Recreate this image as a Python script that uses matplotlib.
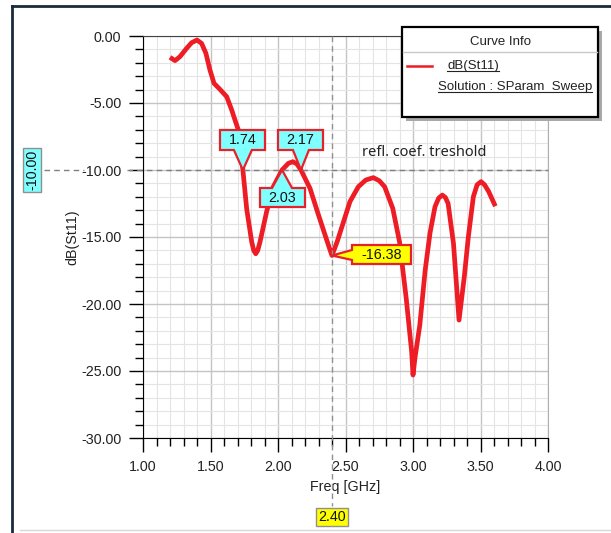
import matplotlib
matplotlib.use("Agg")
import matplotlib.pyplot as plt
from matplotlib.lines import Line2D
from matplotlib.patches import Polygon, Rectangle
from matplotlib.transforms import IdentityTransform
from matplotlib.ticker import MultipleLocator, FormatStrFormatter

plt.rcParams['font.family'] = ['Liberation Sans', 'DejaVu Sans']
plt.rcParams['axes.unicode_minus'] = False

# ---- data ----
freq = [1.20, 1.237, 1.274, 1.323, 1.36, 1.40, 1.434, 1.466, 1.496, 1.526,
        1.57, 1.62, 1.657, 1.689, 1.706, 1.73, 1.74, 1.768, 1.805, 1.82,
        1.835, 1.85, 1.867, 1.916, 1.965, 2.03, 2.077, 2.11, 2.14, 2.17,
        2.237, 2.30, 2.36, 2.39, 2.40, 2.44, 2.47, 2.533, 2.595, 2.65,
        2.706, 2.75, 2.79, 2.85, 2.90, 2.95, 2.99, 3.00, 3.015, 3.05,
        3.09, 3.126, 3.163, 3.19, 3.217, 3.24, 3.26, 3.30, 3.341, 3.38,
        3.41, 3.447, 3.475, 3.504, 3.53, 3.56, 3.61]
s11 = [-1.59, -1.84, -1.54, -0.92, -0.50, -0.30, -0.55, -1.29, -2.54, -3.53,
       -3.98, -4.53, -5.52, -6.50, -7.00, -9.00, -10.00, -12.90, -15.35, -16.00,
       -16.25, -16.00, -15.35, -13.10, -11.25, -10.00, -9.50, -9.38, -9.55, -10.00,
       -11.37, -13.36, -15.20, -16.10, -16.38, -15.30, -14.35, -12.36, -11.25, -10.75,
       -10.57, -10.80, -11.25, -12.86, -15.35, -19.60, -23.56, -25.30, -24.00, -21.60,
       -17.50, -14.70, -12.74, -12.10, -11.87, -12.05, -12.50, -15.50, -21.20, -17.96,
       -14.98, -12.00, -11.10, -10.87, -11.10, -11.60, -12.70]

x_ticks = [1.00, 1.50, 2.00, 2.50, 3.00, 3.50, 4.00]
y_ticks = [0.0, -5.0, -10.0, -15.0, -20.0, -25.0, -30.0]

threshold = -10.0
marker_freqs = [1.74, 2.03, 2.17]
marker_labels = ["1.74", "2.03", "2.17"]
x_cursor = 2.40
cursor_value = -16.38

W, H = 611, 533
fig = plt.figure(figsize=(W / 100, H / 100), dpi=100)
fig.patch.set_facecolor('white')
FS = 10.3


def fx(x):
    return x / W


def fy(y):
    return 1 - y / H


ax = fig.add_axes([fx(143), fy(438), 405 / W, 402 / H])
ax.set_xlim(1.0, 4.0)
ax.set_ylim(-30.0, 0.0)
ax.set_xticks(x_ticks)
ax.set_yticks(y_ticks)
ax.xaxis.set_minor_locator(MultipleLocator(0.1))
ax.yaxis.set_minor_locator(MultipleLocator(1.0))
ax.xaxis.set_major_formatter(FormatStrFormatter('%.2f'))
ax.yaxis.set_major_formatter(FormatStrFormatter('%.2f'))
ax.grid(which='major', color='#c4c4c4', lw=1.0)
ax.grid(which='minor', color='#e4e4e4', lw=0.8)
ax.set_axisbelow(True)
ax.tick_params(which='major', direction='out', length=10, width=1,
               labelsize=FS, labelcolor='#222222')
ax.tick_params(axis='y', which='major', pad=5.5)
ax.tick_params(axis='x', which='major', pad=6.0)
ax.tick_params(which='minor', direction='out', length=6, width=1)
for s in ['left', 'bottom']:
    ax.spines[s].set_color('black')
ax.spines['top'].set_color('#444444')
ax.spines['right'].set_color('#b0b0b0')

ax.plot(freq, s11, color='#ee1c25', lw=3.4, solid_capstyle='butt',
        solid_joinstyle='round', zorder=5)

ax.text(-0.175, 0.5, "dB(St11)", transform=ax.transAxes, rotation=90,
        ha='center', va='center', fontsize=FS, color='#222222')
ax.text(0.5, -(487 - 438) / 402, "Freq [GHz]", transform=ax.transAxes,
        ha='center', va='center', fontsize=FS, color='#222222')

# ---- reference lines ----
fig.canvas.draw()


def to_img(xd, yd):
    X, Y = ax.transData.transform((xd, yd))
    return X, H - Y


def disp(pts):
    return [(x, H - y) for x, y in pts]


_, y_thr = to_img(1.0, threshold)
x_cur, _ = to_img(x_cursor, -30)
for xa, xb in [(44, 84), (127, 548)]:
    fig.add_artist(Line2D([fx(xa), fx(xb)], [fy(y_thr), fy(y_thr)],
                          color='#808080', lw=1.0, ls=(0, (4, 3)), zorder=3))
fig.add_artist(Line2D([fx(x_cur), fx(x_cur)], [fy(36), fy(506)],
                      color='#909090', lw=1.0, ls=(0, (4, 3)), zorder=3))

fig.text(fx(362), fy(152), "refl. coef. treshold", fontsize=10.5, color='#222222',
         family='Noto Sans', ha='left', va='center', zorder=6)

# axis value boxes
fig.text(fx(32), fy(y_thr), "-10.00", rotation=90, ha='center', va='center',
         fontsize=FS, color='#111111',
         bbox=dict(boxstyle='square,pad=0.15', fc='#80ffff', ec='#909090', lw=1))
fig.text(fx(x_cur), fy(517), "2.40", ha='center', va='center',
         fontsize=FS, color='#111111',
         bbox=dict(boxstyle='square,pad=0.15', fc='#ffff00', ec='#909090', lw=1))

# ---- callouts ----
red = '#e8202a'


def add_poly(pts, fc):
    p = Polygon(disp(pts), closed=True, fc=fc, ec=red, lw=1.6,
                transform=IdentityTransform(), zorder=7)
    fig.add_artist(p)


def callout_down(tip, x0, x1, y0, y1, b0, b1, label):
    pts = [(x0, y0), (x1, y0), (x1, y1), (b1, y1), tip, (b0, y1), (x0, y1)]
    add_poly(pts, '#80ffff')
    fig.text(fx((x0 + x1) / 2), fy((y0 + y1) / 2 + 0.5), label, ha='center',
             va='center', fontsize=FS, color='#111111', zorder=8)


def callout_up(tip, x0, x1, y0, y1, b0, b1, label):
    pts = [(x0, y0), (b0, y0), tip, (b1, y0), (x1, y0), (x1, y1), (x0, y1)]
    add_poly(pts, '#80ffff')
    fig.text(fx((x0 + x1) / 2), fy((y0 + y1) / 2 + 0.5), label, ha='center',
             va='center', fontsize=FS, color='#111111', zorder=8)


t1 = to_img(marker_freqs[0], threshold)
t2 = to_img(marker_freqs[1], threshold)
t3 = to_img(marker_freqs[2], threshold)
callout_down(t1, 220, 265, 130, 150, t1[0] - 9, t1[0] + 9, marker_labels[0])
callout_up(t2, 260, 305, 188, 207, t2[0] - 10, t2[0] + 10, marker_labels[1])
callout_down(t3, 278, 323, 130, 150, t3[0] - 8, t3[0] + 8, marker_labels[2])

tc = to_img(x_cursor, cursor_value)
pts = [(352, 245), (411, 245), (411, 264), (352, 264), (352, 260), tc, (352, 250)]
add_poly(pts, '#ffff00')
fig.text(fx(381.5), fy(255), "%.2f" % cursor_value, ha='center', va='center',
         fontsize=FS, color='#111111', zorder=8)

# ---- legend box ----
fig.add_artist(Rectangle((406, H - 121), 196, 90, fc='#a8a8a8', ec='none',
                         transform=IdentityTransform(), zorder=9))
fig.add_artist(Rectangle((402, H - 117), 196, 90, fc='white', ec='black', lw=1.6,
                         transform=IdentityTransform(), zorder=10))
fig.add_artist(Line2D([403, 597], [H - 52, H - 52], color='#c8c8c8', lw=1,
                      transform=IdentityTransform(), zorder=11))
fig.text(fx(500), fy(42), "Curve Info", ha='center', va='center', fontsize=9.5,
         color='#222222', zorder=11)
fig.add_artist(Line2D([407, 432], [H - 66, H - 66], color='#ee1c25', lw=1.8,
                      transform=IdentityTransform(), zorder=11))
tl1 = fig.text(fx(447), fy(66), "dB(St11)", ha='left', va='center', fontsize=9.5,
               color='#222222', zorder=11)
tl2 = fig.text(fx(438), fy(87), "Solution : SParam_Sweep", ha='left', va='center',
               fontsize=9.5, color='#222222', zorder=11)

# frame of the window
fig.add_artist(Line2D([fx(12), fx(12)], [0, fy(6)], color='#1b2b3b', lw=2.0))
fig.add_artist(Line2D([fx(12), 1], [fy(6), fy(6)], color='#1b2b3b', lw=2.0))
fig.add_artist(Line2D([fx(20), 1], [fy(530), fy(530)], color='#d8d8d8', lw=1.0))

fig.canvas.draw()
r = fig.canvas.get_renderer()
for t in (tl1, tl2):
    bb = t.get_window_extent(r)
    fig.add_artist(Line2D([bb.x0, bb.x1], [bb.y0 + 1, bb.y0 + 1], color='#222222',
                          lw=0.8, transform=IdentityTransform(), zorder=11))

fig.savefig("out.png", dpi=100)
